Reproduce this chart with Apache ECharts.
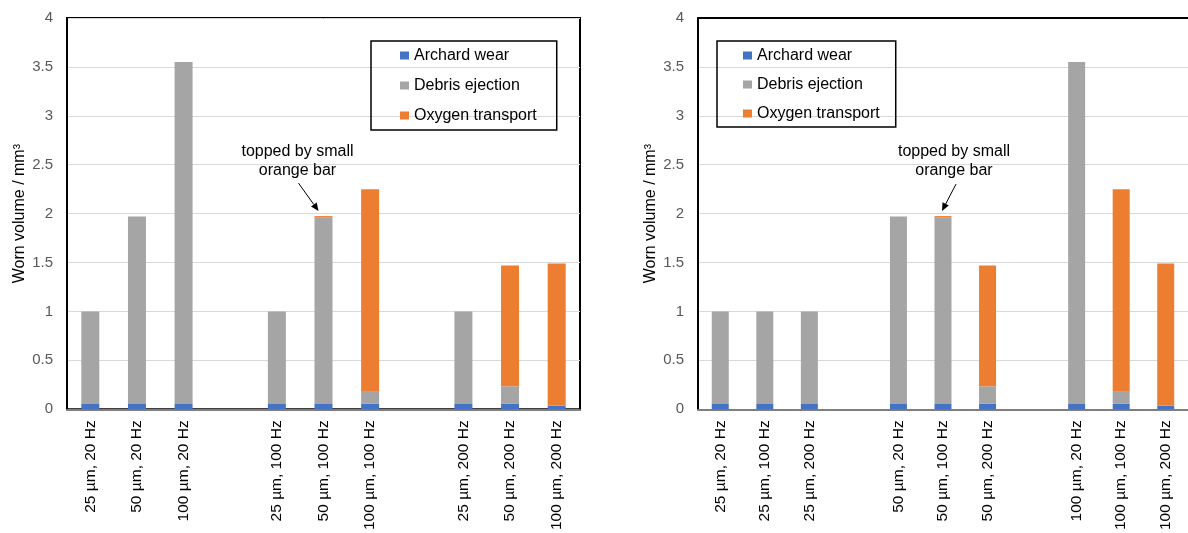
<!DOCTYPE html>
<html><head><meta charset="utf-8">
<script src="https://cdn.jsdelivr.net/npm/echarts/dist/echarts.min.js"></script>
<style>html,body{margin:0;padding:0;background:#fff}#c{width:1188px;height:533px}</style>
</head><body><div id="c"></div>
<script>
// ---- data ----
const conditions = ['25 µm, 20 Hz','50 µm, 20 Hz','100 µm, 20 Hz','25 µm, 100 Hz','50 µm, 100 Hz','100 µm, 100 Hz','25 µm, 200 Hz','50 µm, 200 Hz','100 µm, 200 Hz'];
const archardWear     = [0.055, 0.055, 0.055, 0.055, 0.055, 0.055, 0.055, 0.055, 0.035];
const debrisEjection  = [0.945, 1.915, 3.495, 0.945, 1.905, 0.125, 0.945, 0.180, 0.000];
const oxygenTransport = [0.000, 0.000, 0.000, 0.000, 0.015, 2.070, 0.000, 1.235, 1.455];
const leftOrder  = [0, 1, 2, null, 3, 4, 5, null, 6, 7, 8];
const rightOrder = [0, 3, 6, null, 1, 4, 7, null, 2, 5, 8];
const seriesNames = ['Archard wear', 'Debris ejection', 'Oxygen transport'];
const yMin = 0, yMax = 4, yInterval = 0.5;
const yTitle = 'Worn volume / mm³';
const annotatedCondition = 4;
const annotationText = 'topped by small\norange bar';

// ---- styles ----
const FONT = 'Liberation Sans, Arial, sans-serif';
const colors = ['#4472C4', '#A5A5A5', '#ED7D31'];
const valueArrays = [archardWear, debrisEjection, oxygenTransport];

function cats(order) {
  let b = 0;
  return order.map(i => i === null ? ' '.repeat(b++) : conditions[i]);
}
function mkSeries(order, gi, bw) {
  return valueArrays.map((arr, k) => ({
    name: seriesNames[k], type: 'bar', stack: 'S' + gi,
    xAxisIndex: gi, yAxisIndex: gi, barWidth: bw,
    data: order.map(i => i === null ? '-' : arr[i]),
    itemStyle: { color: colors[k] },
    emphasis: { disabled: true }, silent: true
  }));
}
function mkX(order, gi) {
  return {
    type: 'category', gridIndex: gi, data: cats(order),
    axisTick: { show: false },
    axisLine: { lineStyle: { color: '#7f7f7f', width: 2 } },
    axisLabel: { rotate: 90, interval: 0, fontSize: 15.5, color: '#000', margin: 11, fontFamily: FONT }
  };
}
function mkTop(order, gi) {
  return {
    type: 'category', gridIndex: gi, position: 'top', data: cats(order),
    axisTick: { show: false }, axisLabel: { show: false }, splitLine: { show: false },
    axisLine: { show: true, onZero: false, lineStyle: { color: '#000', width: 2 } }
  };
}
function mkY(gi) {
  return {
    type: 'value', gridIndex: gi, min: yMin, max: yMax, interval: yInterval,
    name: yTitle, nameLocation: 'middle', nameGap: 39,
    nameTextStyle: { color: '#000', fontSize: 16, fontFamily: FONT },
    axisLine: { show: true, lineStyle: { color: '#000', width: 2 } },
    axisTick: { show: false },
    axisLabel: { color: '#595959', fontSize: 15, margin: 14, fontFamily: FONT },
    splitLine: { lineStyle: { color: '#D9D9D9', width: 1 } }
  };
}
function mkLegend(left, padding, gap) {
  return {
    left: left, top: 41, orient: 'vertical', padding: padding,
    itemWidth: 9, itemHeight: 8, itemGap: gap, itemTextGap: 3, icon: 'rect',
    borderColor: '#000', borderWidth: 1.5, selectedMode: false,
    textStyle: { fontSize: 16, color: '#000', fontFamily: FONT, lineHeight: 17 },
    data: seriesNames
  };
}

const chart = echarts.init(document.getElementById('c'), null, { renderer: 'canvas' });
chart.setOption({
  animation: false,
  backgroundColor: '#fff',
  textStyle: { fontFamily: FONT },
  grid: [
    { left: 67, top: 18, width: 513, height: 394, show: true, borderColor: '#000', borderWidth: 2 },
    { left: 698, top: 18, width: 492, height: 394, show: false }
  ],
  legend: [mkLegend(371, [6, 20, 6, 29], 13), mkLegend(717, [6, 16, 5, 26], 12)],
  xAxis: [mkX(leftOrder, 0), mkX(rightOrder, 1), mkTop(rightOrder, 1)],
  yAxis: [mkY(0), mkY(1)],
  series: [...mkSeries(leftOrder, 0, 18), ...mkSeries(rightOrder, 1, 17)]
});

// ---- annotations anchored on the annotated bar's top ----
function total(i) { return archardWear[i] + debrisEjection[i] + oxygenTransport[i]; }
function annotation(gi, order, textDx, sDx, sDy, tDx, tDy) {
  const idx = order.indexOf(annotatedCondition);
  const p = chart.convertToPixel({ gridIndex: gi }, [idx, total(annotatedCondition)]);
  const x1 = p[0] + sDx, y1 = p[1] + sDy, x2 = p[0] + tDx, y2 = p[1] + tDy;
  const ang = Math.atan2(y2 - y1, x2 - x1), L = 8, W = 3.5;
  const bx = x2 - L * Math.cos(ang), by = y2 - L * Math.sin(ang);
  const nx = -Math.sin(ang), ny = Math.cos(ang);
  return [
    { type: 'text', x: p[0] + textDx, y: p[1] - 55, silent: true,
      style: { text: annotationText, font: '16px ' + FONT, fill: '#000', align: 'center', verticalAlign: 'middle', lineHeight: 19 } },
    { type: 'line', silent: true, shape: { x1: x1, y1: y1, x2: bx, y2: by }, style: { stroke: '#000', lineWidth: 1 } },
    { type: 'polygon', silent: true, shape: { points: [[x2, y2], [bx + nx * W, by + ny * W], [bx - nx * W, by - ny * W]] }, style: { fill: '#000' } }
  ];
}
chart.setOption({
  graphic: [
    ...annotation(0, leftOrder, -26, -25, -33, -5, -5),
    ...annotation(1, rightOrder, 11, 13, -32, -1, -5)
  ]
});
</script>
</body></html>
